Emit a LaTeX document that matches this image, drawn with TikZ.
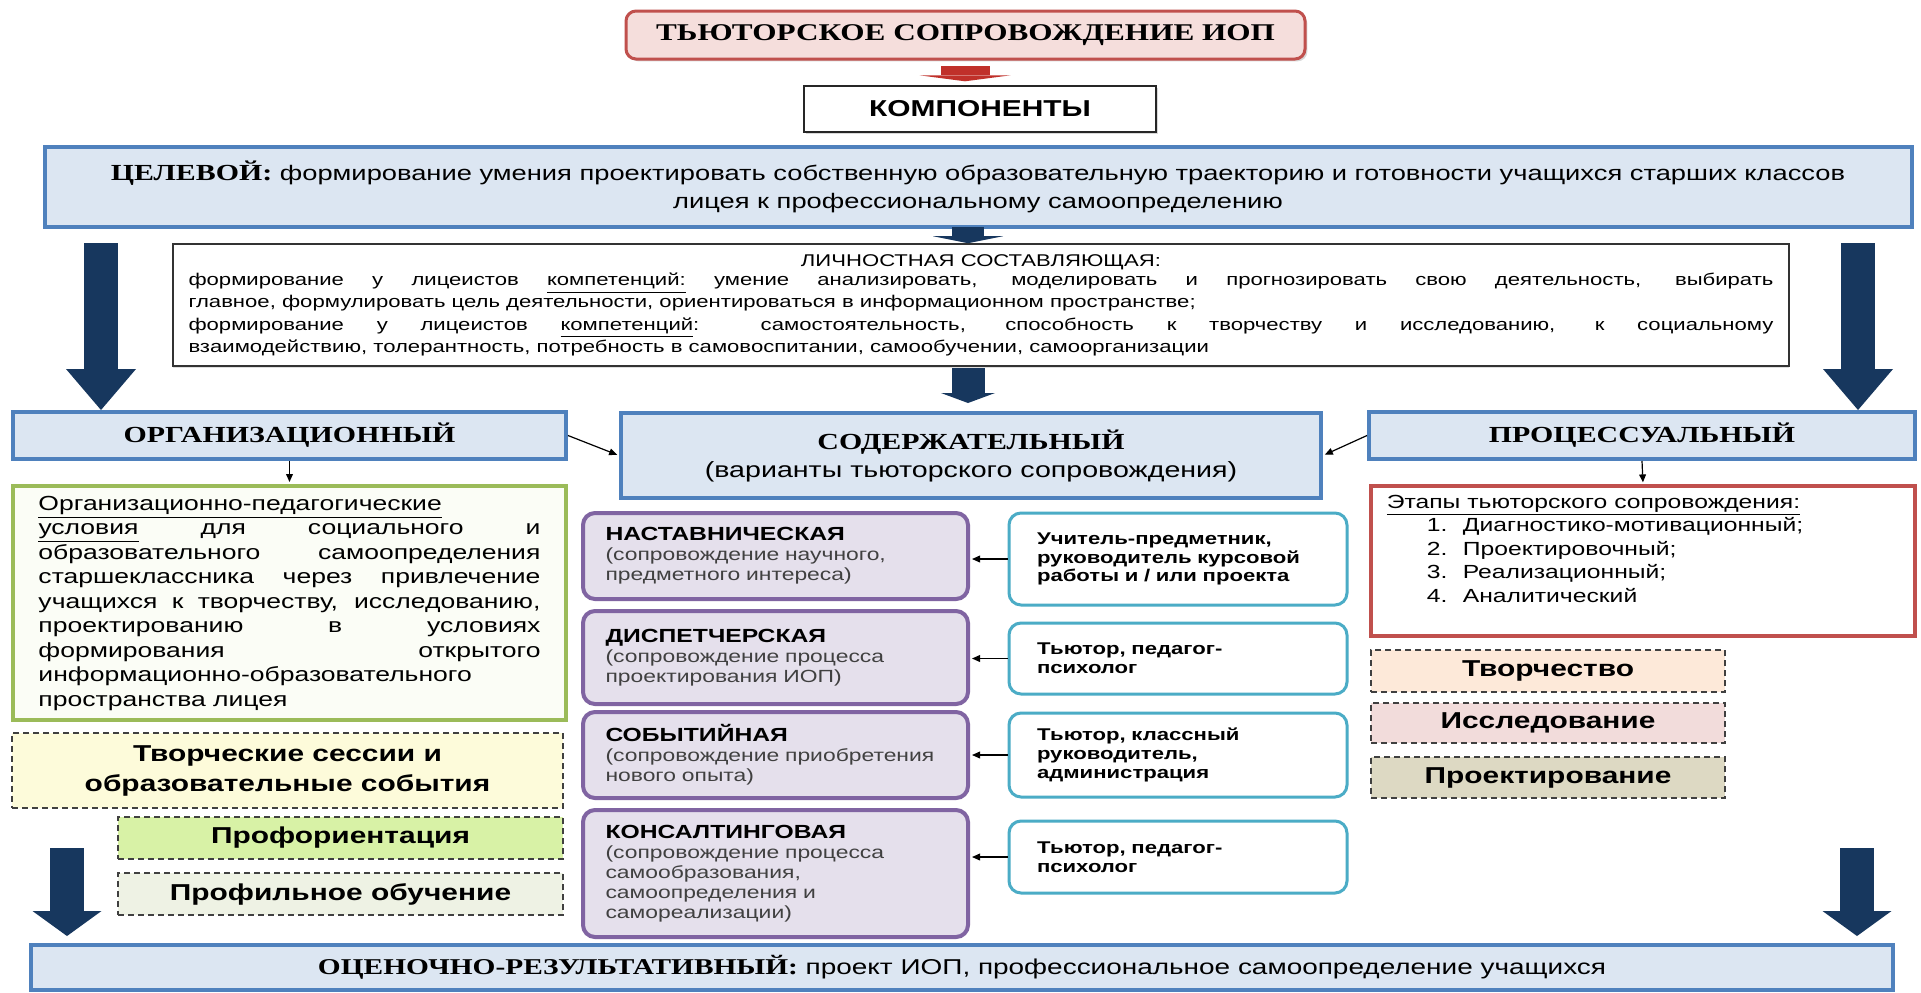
\documentclass[tikz,border=0pt]{standalone}
\usepackage{fontspec}
\setmainfont{Liberation Sans}[FakeStretch=1.3]
\newfontfamily\tnr{Liberation Serif}[FakeStretch=1.3]
\usetikzlibrary{arrows.meta,shadows}
\definecolor{navy}{HTML}{17375E}
\definecolor{barfill}{HTML}{DCE6F2}
\definecolor{barline}{HTML}{4F81BD}
\definecolor{redline}{HTML}{C0504D}
\definecolor{pinkfill}{HTML}{F5DEDC}
\definecolor{arrowred}{HTML}{C0302A}
\definecolor{purpline}{HTML}{8064A2}
\definecolor{purpfill}{HTML}{E5E0EC}
\definecolor{tealline}{HTML}{4BACC6}
\definecolor{greenline}{HTML}{9BBB59}
\definecolor{greenfill}{HTML}{FBFDF6}
\definecolor{sessfill}{HTML}{FDFBDA}
\definecolor{proffill}{HTML}{D8F2A6}
\definecolor{profobfill}{HTML}{EEF2E4}
\definecolor{tvorfill}{HTML}{FDE9D9}
\definecolor{issfill}{HTML}{F2DCDB}
\definecolor{projfill}{HTML}{DDD9C3}
\tikzset{
  sz/.style 2 args={minimum width=#1*0.5pt, minimum height=#2*0.5pt},
  bar/.style={draw=barline, fill=barfill, line width=2pt, inner sep=0pt},
  varbox/.style={draw=purpline, fill=purpfill, line width=2pt, rounded corners=6pt, align=left,
    inner xsep=11pt, inner ysep=0pt, text width=170pt, font=\fontsize{8.8}{10}\selectfont},
  whobox/.style={draw=tealline, fill=white, line width=1.5pt, rounded corners=6pt, align=left,
    inner xsep=14pt, inner ysep=0pt, text width=141pt, font=\bfseries\fontsize{8.5}{9.3}\selectfont},
  dashbox/.style={draw=black!75, dash pattern=on 3pt off 2pt, line width=0.7pt, align=center,
    inner sep=0pt, font=\bfseries\fontsize{11.5}{15}\selectfont},
  blockarrow/.style n args={3}{navy, line width=#1, -{Triangle[width=#2,length=#3,line width=0pt]}},
  thinarrow/.style={line width=0.6pt, -{Triangle[length=4pt,width=3.4pt]}, shorten >=1pt},
}
\begin{document}
\begin{tikzpicture}[x=0.5pt,y=-0.5pt]
\path[use as bounding box, fill=white] (0,0) rectangle (1921,992);
\node[draw=redline, fill=pinkfill, line width=1.5pt, rounded corners=5pt, sz={679}{48},
  drop shadow={opacity=0.3, shadow xshift=1.2pt, shadow yshift=-1.2pt},
  font=\tnr\bfseries\fontsize{12}{14}\selectfont] (title) at (965.5,35) {ТЬЮТОРСКОЕ СОПРОВОЖДЕНИЕ ИОП};
\node[draw=black!85, fill=white, line width=0.7pt, sz={352}{46},
  drop shadow={opacity=0.3, shadow xshift=1pt, shadow yshift=-1pt},
  font=\bfseries\fontsize{11.5}{13}\selectfont] (komp) at (980,109) {КОМПОНЕНТЫ};
\node[bar, sz={1867}{80}, align=center, font=\fontsize{10.5}{14}\selectfont] (cel) at (978,187)
  {{\tnr\bfseries\fontsize{11.5}{14}\selectfont ЦЕЛЕВОЙ:} формирование умения проектировать собственную образовательную траекторию и готовности учащихся старших классов\\
  лицея к профессиональному самоопределению};
\node[draw=black!80, fill=white, line width=0.8pt, sz={1616}{122}, inner sep=0pt,
  drop shadow={opacity=0.25, shadow xshift=0pt, shadow yshift=-1.2pt},
  text width=792.5pt, align=justify, font=\fontsize{8.5}{9.75}\selectfont] (lich) at (981,305)
  {\makebox[\hsize]{ЛИЧНОСТНАЯ СОСТАВЛЯЮЩАЯ:}\\
  формирование у лицеистов \underline{компетенций:} умение анализировать, моделировать и прогнозировать свою деятельность, выбирать\linebreak
  главное, формулировать цель деятельности, ориентироваться в информационном пространстве;\\[1.5pt]
  формирование у лицеистов \underline{компетенций}: самостоятельность, способность к творчеству и исследованию, к социальному\linebreak
  взаимодействию, толерантность, потребность в самовоспитании, самообучении, самоорганизации};
\node[bar, sz={553}{47}, font=\tnr\bfseries\fontsize{11.5}{14}\selectfont] (org) at (289.5,435.5) {ОРГАНИЗАЦИОННЫЙ};
\node[bar, sz={700}{85}, align=center, font=\fontsize{11}{14}\selectfont] (sod) at (971,455.5)
  {{\tnr\bfseries\fontsize{11.5}{14}\selectfont СОДЕРЖАТЕЛЬНЫЙ}\\(варианты тьюторского сопровождения)};
\node[bar, sz={546}{47}, font=\tnr\bfseries\fontsize{11.5}{14}\selectfont] (proc) at (1642,435.5) {ПРОЦЕССУАЛЬНЫЙ};
\node[draw=greenline, fill=greenfill, line width=2pt, sz={553}{234}, inner sep=0pt,
  text width=251pt, align=justify, font=\fontsize{10.2}{12.25}\selectfont] (usl) at (289.5,603)
  {\underline{Организационно-педагогические}\\
  \underline{условия} для социального и\linebreak
  образовательного самоопределения\linebreak
  старшеклассника через привлечение\linebreak
  учащихся к творчеству, исследованию,\linebreak
  проектированию в условиях\linebreak
  формирования открытого\linebreak
  информационно-образовательного\\
  пространства лицея};
\node[draw=redline, fill=white, line width=1.6pt, sz={544}{150}] (etap) at (1643,561) {};
\node[anchor=north west, inner sep=0pt, align=left, font=\fontsize{9.5}{11.75}\selectfont] (etapt)
  at ([shift={(17,10)}]etap.north west)
  {\underline{Этапы тьюторского сопровождения:}\\
  \hspace*{20pt}\makebox[18pt][l]{1.}Диагностико-мотивационный;\\
  \hspace*{20pt}\makebox[18pt][l]{2.}Проектировочный;\\
  \hspace*{20pt}\makebox[18pt][l]{3.}Реализационный;\\
  \hspace*{20pt}\makebox[18pt][l]{4.}Аналитический};
\node[dashbox, fill=tvorfill, sz={354}{42}] (tvor) at (1548,671) {Творчество};
\node[dashbox, fill=issfill, sz={354}{40}] (iss) at (1548,723) {Исследование};
\node[dashbox, fill=projfill, sz={354}{41}] (proj) at (1548,777.5) {Проектирование};
\node[dashbox, fill=sessfill, sz={551}{75}] (sess) at (287.5,770.5) {Творческие сессии и\\образовательные события};
\node[dashbox, fill=proffill, sz={445}{42}] (prof) at (340.5,838) {Профориентация};
\node[dashbox, fill=profobfill, sz={445}{42}] (profob) at (340.5,894) {Профильное обучение};
\node[varbox, sz={385}{86}] (p1) at (775.5,556)
  {{\bfseries\fontsize{9.5}{10}\selectfont НАСТАВНИЧЕСКАЯ}\\{\color{black!75}(сопровождение научного,\\предметного интереса)}};
\node[varbox, sz={385}{93}] (p2) at (775.5,657.5)
  {{\bfseries\fontsize{9.5}{10}\selectfont ДИСПЕТЧЕРСКАЯ}\\{\color{black!75}(сопровождение процесса\\проектирования ИОП)}};
\node[varbox, sz={385}{86}] (p3) at (775.5,755)
  {{\bfseries\fontsize{9.5}{10}\selectfont СОБЫТИЙНАЯ}\\{\color{black!75}(сопровождение приобретения\\нового опыта)}};
\node[varbox, sz={385}{127}] (p4) at (775.5,873.5)
  {{\bfseries\fontsize{9.5}{10}\selectfont КОНСАЛТИНГОВАЯ}\\{\color{black!75}(сопровождение процесса\\самообразования,\\самоопределения и\\самореализации)}};
\node[whobox, sz={338}{92}] (t1) at (1178,559) {Учитель-предметник,\\руководитель курсовой\\работы и / или проекта};
\node[whobox, sz={338}{71}] (t2) at (1178,658.5) {Тьютор, педагог-\\психолог};
\node[whobox, sz={338}{84}] (t3) at (1178,755) {Тьютор, классный\\руководитель,\\администрация};
\node[whobox, sz={338}{72}] (t4) at (1178,857) {Тьютор, педагог-\\психолог};
\node[bar, sz={1862}{45}, font=\fontsize{10.75}{13}\selectfont] (ocen) at (962,967.5)
  {{\tnr\bfseries\fontsize{11.3}{13}\selectfont ОЦЕНОЧНО-РЕЗУЛЬТАТИВНЫЙ:} проект ИОП, профессиональное самоопределение учащихся};
\coordinate (ra) at (965,66);
\coordinate (ca) at (968,227);
\coordinate (cb) at (968,368);
\coordinate (la) at (101,243);
\coordinate (rb) at (1858,243);
\coordinate (lc) at (67,848);
\coordinate (rc) at (1857,848);
\draw[arrowred, line width=24.5pt, -{Triangle[width=45.5pt,length=3pt,line width=0pt]}, shorten >=2pt] (ra) -- (ra |- komp.north);
\draw[blockarrow={16pt}{35pt}{3.5pt}] (ca) -- (ca |- lich.north);
\draw[blockarrow={16.5pt}{27pt}{5pt}, shorten >=4pt] (cb) -- (cb |- sod.north);
\draw[blockarrow={17pt}{35pt}{20.5pt}] (la) -- (la |- org.north);
\draw[blockarrow={17pt}{35pt}{20.5pt}] (rb) -- (rb |- proc.north);
\draw[blockarrow={17pt}{34.5pt}{12.5pt}, shorten >=3.5pt] (lc) -- (lc |- ocen.north);
\draw[blockarrow={17pt}{34.5pt}{12.5pt}, shorten >=3.5pt] (rc) -- (rc |- ocen.north);
\draw[thinarrow] (org.east) -- (sod.west);
\draw[thinarrow] (proc.west) -- (sod.east);
\draw[thinarrow] (org.south) -- (usl.north);
\draw[thinarrow] (proc.south) -- (etap.north);
\foreach \i in {1,...,4}
  \draw[thinarrow] (t\i.west) -- (t\i.west -| p\i.east);
\end{tikzpicture}
\end{document}
